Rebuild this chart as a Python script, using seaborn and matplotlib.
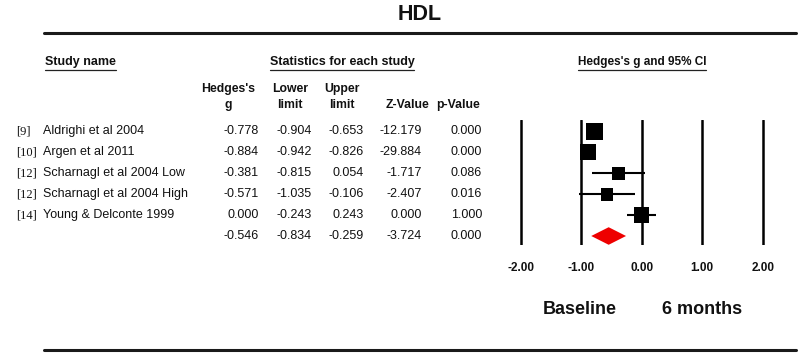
import matplotlib
matplotlib.use("Agg")
import matplotlib.pyplot as plt
import matplotlib.transforms as mtransforms
from matplotlib.lines import Line2D
import pandas as pd
import seaborn as sns

sns.set_theme(style="white")
plt.rcParams['font.family'] = ['Liberation Sans', 'DejaVu Sans']
plt.rcParams['text.color'] = '#111111'
plt.rcParams['xtick.color'] = '#111111'

# data
refs = ["[9]", "[10]", "[12]", "[12]", "[14]"]
studies = ["Aldrighi et al 2004", "Argen et al 2011", "Scharnagl et al 2004 Low",
           "Scharnagl et al 2004 High", "Young & Delconte 1999"]
hedges_g = [-0.778, -0.884, -0.381, -0.571, 0.000]
lower = [-0.904, -0.942, -0.815, -1.035, -0.243]
upper = [-0.653, -0.826, 0.054, -0.106, 0.243]
z_value = [-12.179, -29.884, -1.717, -2.407, 0.000]
p_value = [0.000, 0.000, 0.086, 0.016, 1.000]
weights = [25.4, 23.2, 15.5, 14.6, 21.3]  # relative weight (square size)
summary = {"g": -0.546, "lower": -0.834, "upper": -0.259, "z": -3.724, "p": 0.000}
xticks = [-2, -1, 0, 1, 2]

df = pd.DataFrame({"study": studies, "g": hedges_g, "lower": lower, "upper": upper,
                   "z": z_value, "p": p_value, "w": weights})
df["row"] = range(len(df))
sum_row = len(df)

W, H = 800, 358
fig = plt.figure(figsize=(8, 3.58), dpi=100)

def fx(px):
    return px / W

def fy(py):
    return 1 - py / H

# forest plot axes (x: -2.2..2.2, rows 0..5)
ax = fig.add_axes([fx(508.6), fy(245.4), 266.2 / W, 125.4 / H])
ax.set_xlim(-2.2, 2.2)
ax.set_ylim(sum_row + 0.45, -0.55)
for t in xticks:
    ax.axvline(t, color="black", lw=1.8, zorder=1)
ax.hlines(df["row"], df["lower"], df["upper"], color="black", lw=1.5, zorder=2)
sns.scatterplot(data=df, x="g", y="row", size="w", sizes=(83, 144), marker="s",
                color="black", linewidth=0, legend=False, ax=ax, zorder=3)
ax.fill([summary["lower"], summary["g"], summary["upper"], summary["g"]],
        [sum_row, sum_row - 0.42, sum_row, sum_row + 0.42], color="#ee0000", lw=0, zorder=3)
ax.set_xticks(xticks)
ax.set_xticklabels(["%.2f" % t for t in xticks], fontweight="bold", fontsize=8.5)
ax.set_yticks([])
ax.tick_params(axis="x", length=0, pad=12)
ax.set_xlabel("")
ax.set_ylabel("")
for s in ax.spines.values():
    s.set_visible(False)
ax.patch.set_alpha(0)

# table text, rows aligned with forest rows
tr = mtransforms.blended_transform_factory(fig.transFigure, ax.transData)
for i, r in df.iterrows():
    y = r["row"]
    fig.text(fx(16), y, refs[i], transform=tr, va="center", ha="left", fontsize=9,
             family=["Liberation Serif", "DejaVu Serif"])
    fig.text(fx(43), y, r["study"], transform=tr, va="center", ha="left", fontsize=9)
    for xr, val in [(259, r["g"]), (312, r["lower"]), (364, r["upper"]), (422, r["z"]), (482, r["p"])]:
        fig.text(fx(xr), y, "%.3f" % val, transform=tr, va="center", ha="right", fontsize=9)
for xr, key in [(259, "g"), (312, "lower"), (364, "upper"), (422, "z"), (482, "p")]:
    fig.text(fx(xr), sum_row, "%.3f" % summary[key], transform=tr, va="center", ha="right", fontsize=9)

# headers
fig.text(fx(420), fy(14), "HDL", ha="center", va="center", fontsize=15.5, fontweight="bold")
heads = [fig.text(fx(45), fy(62), "Study name", ha="left", va="center", fontsize=9, fontweight="bold"),
         fig.text(fx(342), fy(62), "Statistics for each study", ha="center", va="center", fontsize=9, fontweight="bold"),
         fig.text(fx(642), fy(62), "Hedges's g and 95% CI", ha="center", va="center", fontsize=8.5, fontweight="bold")]
cols = [(228, "Hedges's\ng"), (290, "Lower\nlimit"), (342, "Upper\nlimit"), (407, "\nZ-Value"), (458, "\np-Value")]
for xc, lab in cols:
    fig.text(fx(xc), fy(97), lab, ha="center", va="center", fontsize=8.8, fontweight="bold",
             linespacing=1.45, multialignment="center")

fig.text(fx(580), fy(310), "Baseline", ha="center", va="center", fontsize=13, fontweight="bold")
fig.text(fx(702), fy(310), "6 months", ha="center", va="center", fontsize=13, fontweight="bold")

# rules
fig.add_artist(Line2D([fx(44), fx(796)], [fy(32.7)] * 2, color="#1a1a1a", lw=2.2))
fig.add_artist(Line2D([fx(44), fx(796)], [fy(350)] * 2, color="#1a1a1a", lw=2.2))

# underline header texts
fig.canvas.draw()
rend = fig.canvas.get_renderer()
for t in heads:
    bb = t.get_window_extent(rend)
    fig.add_artist(Line2D([bb.x0 / W, bb.x1 / W], [fy(70)] * 2, color="#222222", lw=0.9))

fig.savefig("out.png", dpi=100)
